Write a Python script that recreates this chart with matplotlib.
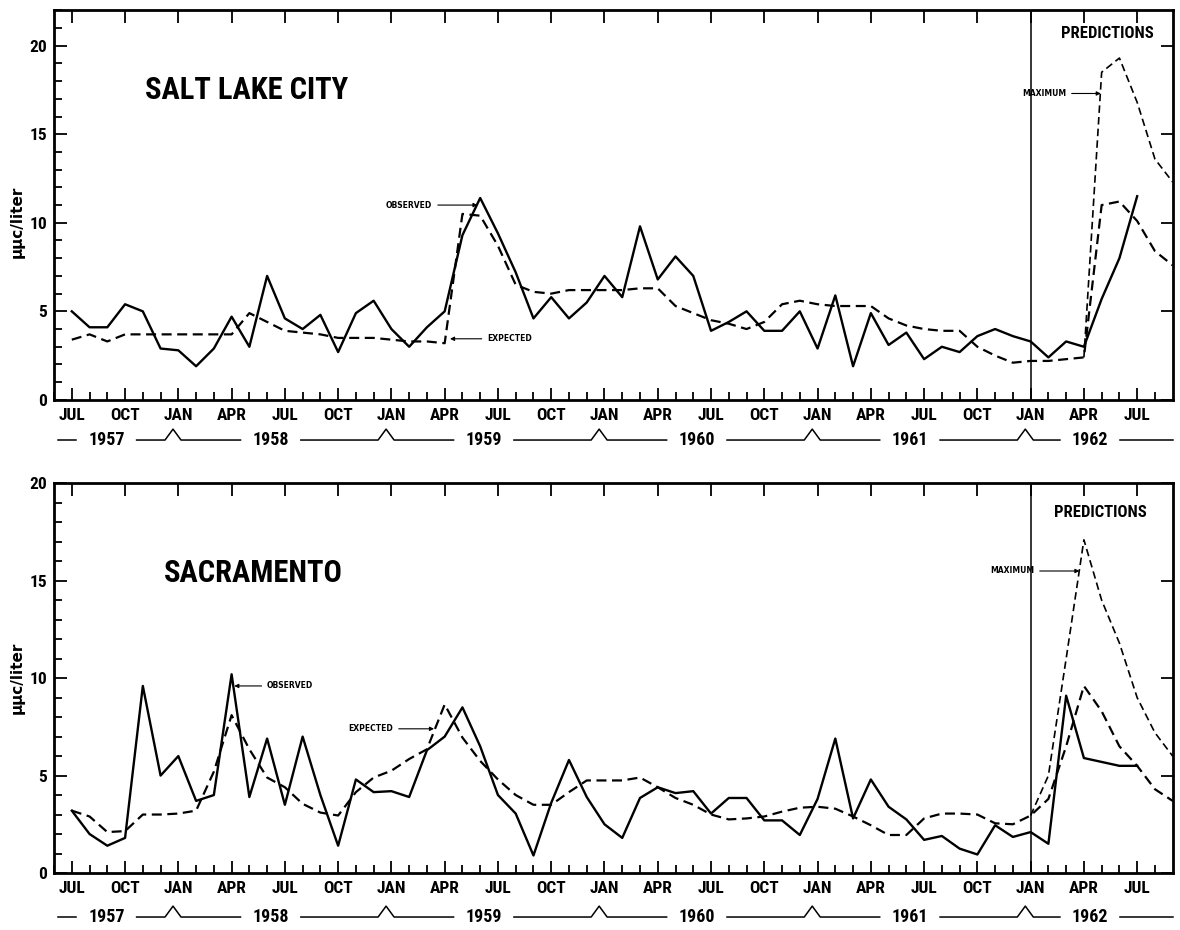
import matplotlib
matplotlib.use("Agg")
import matplotlib.pyplot as plt
from matplotlib.ticker import FixedLocator, MultipleLocator
from matplotlib import font_manager
import numpy as np

# month index 0 = JUL 1957
tick_labels = ['JUL', 'OCT', 'JAN', 'APR'] * 5 + ['JUL']
years = ['1957', '1958', '1959', '1960', '1961', '1962']

# Salt Lake City, uuc/liter
slc_observed = [5.0, 4.1, 4.1, 5.4, 5.0, 2.9, 2.8, 1.9, 2.9, 4.7, 3.0, 7.0, 4.6, 4.0, 4.8, 2.7,
                4.9, 5.6, 4.0, 3.0, 4.1, 5.0, 9.3, 11.4, 9.4, 7.2, 4.6, 5.8, 4.6, 5.5, 7.0, 5.8,
                9.8, 6.8, 8.1, 7.0, 3.9, 4.4, 5.0, 3.9, 3.9, 5.0, 2.9, 5.9, 1.9, 4.9, 3.1, 3.8,
                2.3, 3.0, 2.7, 3.6, 4.0, 3.6, 3.3, 2.4, 3.3, 3.0, 5.7, 8.0, 11.5]
slc_expected = [3.4, 3.7, 3.3, 3.7, 3.7, 3.7, 3.7, 3.7, 3.7, 3.7, 4.9, 4.4, 3.9, 3.8, 3.7, 3.5,
                3.5, 3.5, 3.4, 3.3, 3.3, 3.2, 10.5, 10.4, 8.7, 6.5, 6.1, 6.0, 6.2, 6.2, 6.2, 6.2,
                6.3, 6.3, 5.3, 4.9, 4.5, 4.3, 4.0, 4.4, 5.4, 5.6, 5.4, 5.3, 5.3, 5.3, 4.6, 4.2,
                4.0, 3.9, 3.9, 3.0, 2.5, 2.1, 2.2, 2.2, 2.3, 2.4, 11.0, 11.2, 10.1, 8.4, 7.6]
slc_max_start = 57
slc_maximum = [2.4, 18.5, 19.3, 16.8, 13.6, 12.3]

# Sacramento, uuc/liter
sac_observed = [3.2, 2.0, 1.4, 1.8, 9.6, 5.0, 6.0, 3.7, 4.0, 10.2, 3.9, 6.9, 3.5, 7.0, 4.0, 1.4,
                4.8, 4.15, 4.2, 3.9, 6.3, 7.0, 8.5, 6.5, 4.0, 3.05, 0.9, 3.6, 5.8, 3.9, 2.5, 1.8,
                3.85, 4.4, 4.1, 4.2, 3.05, 3.85, 3.85, 2.7, 2.7, 1.95, 3.8, 6.9, 2.8, 4.8, 3.4, 2.75,
                1.7, 1.9, 1.25, 0.95, 2.45, 1.85, 2.1, 1.5, 9.1, 5.9, 5.7, 5.5, 5.5]
sac_expected = [3.2, 2.9, 2.1, 2.15, 3.0, 3.0, 3.05, 3.2, 5.2, 8.1, 6.35, 4.9, 4.4, 3.55, 3.1, 2.95,
                4.15, 4.9, 5.25, 5.85, 6.35, 8.65, 6.95, 5.75, 4.8, 4.0, 3.5, 3.5, 4.15, 4.75, 4.75, 4.75,
                4.9, 4.4, 3.85, 3.5, 3.0, 2.75, 2.8, 2.9, 3.15, 3.35, 3.4, 3.3, 2.9, 2.45, 1.95, 1.95,
                2.8, 3.05, 3.05, 3.0, 2.55, 2.5, 2.95, 3.8, 6.5, 9.6, 8.3, 6.5, 5.5, 4.3, 3.7]
sac_max_start = 54
sac_maximum = [2.95, 5.0, 11.0, 17.1, 14.0, 11.8, 9.0, 7.2, 6.0]

# narrow bold face if one is installed
names = {f.name for f in font_manager.fontManager.ttflist}
narrow = [n for n in ['Liberation Sans Narrow', 'DejaVu Sans Condensed', 'Roboto Condensed',
                      'Open Sans Condensed'] if n in names]
FONT = narrow[:1] + ['DejaVu Sans']
plt.rcParams['font.family'] = FONT
plt.rcParams['font.weight'] = 'bold'
plt.rcParams['font.stretch'] = 'condensed'

XMIN, XMAX = -1, 62
PRED_START = 54  # JAN 1962


def draw_years(ax, yfrac):
    tr = ax.get_xaxis_transform()
    carets = [5.7 + 12 * i for i in range(5)]
    bounds = [XMIN + 0.2] + carets + [XMAX]
    centers = [(bounds[i] + bounds[i + 1]) / 2 - 0.5 for i in range(len(years))]
    gap = 1.7
    h = 0.028
    for i in range(len(years)):
        ax.text(centers[i], yfrac, years[i], transform=tr, ha='center', va='center',
                fontsize=13, fontweight='bold', clip_on=False)
    # line pieces between year labels, with a caret at each new year
    for i in range(len(years)):
        x0 = centers[i] + gap
        x1 = centers[i + 1] - gap if i + 1 < len(years) else XMAX
        xs = [x0]
        ys = [yfrac]
        if i < len(carets):
            c = carets[i]
            xs += [c - 0.45, c, c + 0.45]
            ys += [yfrac, yfrac + h, yfrac]
        xs.append(x1)
        ys.append(yfrac)
        ax.plot(xs, ys, color='black', lw=1.1, transform=tr, clip_on=False)
    ax.plot([bounds[0], centers[0] - gap], [yfrac, yfrac], color='black', lw=1.1,
            transform=tr, clip_on=False)


def setup_axes(ax, ytop, yfrac):
    ax.set_xlim(XMIN, XMAX)
    ax.set_ylim(0, ytop)
    ax.xaxis.set_major_locator(FixedLocator(list(range(0, 61, 3))))
    ax.xaxis.set_minor_locator(FixedLocator(list(range(XMIN, XMAX))))
    ax.set_xticklabels(tick_labels, fontsize=12.5, fontweight='bold')
    ax.yaxis.set_major_locator(FixedLocator([0, 5, 10, 15, 20]))
    ax.yaxis.set_minor_locator(MultipleLocator(1))
    ax.tick_params(which='both', direction='in', color='black', width=1.3)
    ax.tick_params(which='major', length=9, top=True, right=True, labelsize=12.5, pad=5)
    ax.tick_params(which='minor', length=6, top=False, right=False)
    ax.tick_params(axis='x', which='major', pad=6)
    for lab in ax.get_yticklabels():
        lab.set_fontweight('bold')
    for sp in ax.spines.values():
        sp.set_linewidth(2.0)
    ax.axvline(PRED_START, color='black', lw=1.1)
    draw_years(ax, yfrac)


def note(ax, text, xy, xytext, ha):
    ax.annotate(text, xy=xy, xytext=xytext, ha=ha, va='center', fontsize=5.5,
                fontweight='bold', fontstretch='normal', family=['DejaVu Sans'],
                arrowprops=dict(arrowstyle='-|>', color='black', lw=0.8,
                                mutation_scale=6, shrinkA=2, shrinkB=0))


fig = plt.figure(figsize=(11.8, 9.3), dpi=100)
ax1 = fig.add_axes([0.0458, 0.570, 0.948, 0.419])
ax2 = fig.add_axes([0.0458, 0.0613, 0.948, 0.419])

dash = (0, (4.5, 2.5))
title_size = 22 if narrow else 16
pred_size = 12 if narrow else 9.5

# Salt Lake City
ax1.plot(range(len(slc_observed)), slc_observed, color='black', lw=1.7)
ax1.plot(range(len(slc_expected)), slc_expected, color='black', lw=1.6, linestyle=dash)
ax1.plot(range(slc_max_start, slc_max_start + len(slc_maximum)), slc_maximum,
         color='black', lw=1.2, linestyle=dash)
setup_axes(ax1, 22, -0.103)
ax1.text(4.1, 17.5, 'SALT LAKE CITY', fontsize=title_size, fontweight='bold', va='center')
ax1.text(58.3, 20.7, 'PREDICTIONS', fontsize=pred_size, fontweight='bold', ha='center', va='center')
note(ax1, 'OBSERVED', (22.85, 11.0), (20.3, 11.0), 'right')
note(ax1, 'EXPECTED', (21.3, 3.45), (23.4, 3.45), 'left')
note(ax1, 'MAXIMUM', (57.95, 17.3), (56.0, 17.3), 'right')

# Sacramento
ax2.plot(range(len(sac_observed)), sac_observed, color='black', lw=1.7)
ax2.plot(range(len(sac_expected)), sac_expected, color='black', lw=1.6, linestyle=dash)
ax2.plot(range(sac_max_start, sac_max_start + len(sac_maximum)), sac_maximum,
         color='black', lw=1.2, linestyle=dash)
setup_axes(ax2, 20, -0.113)
ax2.text(5.2, 15.4, 'SACRAMENTO', fontsize=title_size, fontweight='bold', va='center')
ax2.text(57.9, 18.5, 'PREDICTIONS', fontsize=pred_size, fontweight='bold', ha='center', va='center')
note(ax2, 'OBSERVED', (9.15, 9.6), (11.0, 9.6), 'left')
note(ax2, 'EXPECTED', (20.4, 7.4), (18.1, 7.4), 'right')
note(ax2, 'MAXIMUM', (56.75, 15.5), (54.2, 15.5), 'right')

fig.text(0.015, 0.762, '\u03bc\u03bcc/liter', rotation=90, ha='center', va='center',
         fontsize=11, fontweight='bold', fontstretch='normal', family=['DejaVu Sans'])
fig.text(0.015, 0.271, '\u03bc\u03bcc/liter', rotation=90, ha='center', va='center',
         fontsize=11, fontweight='bold', fontstretch='normal', family=['DejaVu Sans'])

fig.savefig('out.png', dpi=100)
